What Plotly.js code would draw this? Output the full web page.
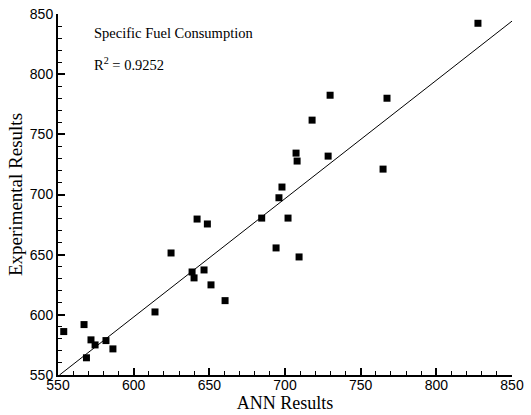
<!DOCTYPE html>
<html>
<head>
<meta charset="utf-8">
<script src="https://cdn.plot.ly/plotly-3.0.1.min.js"></script>
<style>html,body{margin:0;padding:0;background:#fff;}#chart{width:531px;height:415px;}</style>
</head>
<body>
<div id="chart"></div>
<script>
// Data
const annResults = [553.8, 567.2, 571.8, 574.5, 581.7, 586.3, 568.8, 614.1, 624.7, 641.9,
                    648.7, 638.6, 639.9, 646.5, 651.1, 660.4, 684.6, 702.0, 694.1, 709.3,
                    696.0, 698.0, 707.3, 708.0, 717.9, 728.5, 729.8, 764.8, 767.4, 827.5];
const expResults = [586.1, 591.9, 579.2, 575.0, 578.6, 571.7, 564.3, 602.4, 651.4, 679.6,
                    675.5, 635.6, 630.7, 637.3, 624.9, 611.8, 680.4, 680.4, 655.6, 648.1,
                    697.3, 706.2, 734.4, 727.8, 761.8, 731.9, 782.5, 721.1, 780.0, 842.3];
const fitX = [551, 856];
const fitY = [550, 850];
const axisTicks = [550, 600, 650, 700, 750, 800, 850];
const chartLabel = "Specific Fuel Consumption";
const r2Label = "R<sup>2</sup> = 0.9252";

const sans = "Liberation Sans, Arial, sans-serif";
const serif = "Liberation Serif, Times New Roman, serif";

const traces = [
  {x: fitX, y: fitY, mode: "lines", type: "scatter",
   line: {color: "#000", width: 1}, hoverinfo: "skip", showlegend: false},
  {x: annResults, y: expResults, mode: "markers", type: "scatter",
   marker: {symbol: "square", size: 7, color: "#000"}, showlegend: false}
];

const axisCommon = {
  showgrid: false, zeroline: false, showline: true, linecolor: "#000", linewidth: 2,
  ticks: "inside", ticklen: 7, tickwidth: 2, tickcolor: "#000",
  tickvals: axisTicks, ticktext: axisTicks.map(String),
  tickfont: {family: sans, size: 14, color: "#000"},
  minor: {dtick: 10, ticks: "inside", ticklen: 4, tickwidth: 1, tickcolor: "#000"},
  mirror: false
};

const layout = {
  width: 531, height: 415,
  margin: {l: 58, r: 19, t: 14, b: 40},
  paper_bgcolor: "#fff", plot_bgcolor: "#fff",
  xaxis: Object.assign({}, axisCommon, {
    range: [550, 850],
    ticklabelstandoff: -4,
    title: {text: "ANN Results", font: {family: serif, size: 18, color: "#000"}, standoff: 0}
  }),
  yaxis: Object.assign({}, axisCommon, {
    range: [550, 850],
    title: {text: "Experimental Results", font: {family: serif, size: 19, color: "#000"}, standoff: 2}
  }),
  annotations: [
    {text: chartLabel, xref: "paper", yref: "paper", x: 0.074, y: 0.947,
     xanchor: "left", yanchor: "middle", showarrow: false,
     font: {family: serif, size: 14.5, color: "#000"}},
    {text: r2Label, xref: "paper", yref: "paper", x: 0.074, y: 0.862,
     xanchor: "left", yanchor: "middle", showarrow: false,
     font: {family: serif, size: 14.5, color: "#000"}}
  ]
};

Plotly.newPlot("chart", traces, layout, {displayModeBar: false, staticPlot: true});
</script>
</body>
</html>
